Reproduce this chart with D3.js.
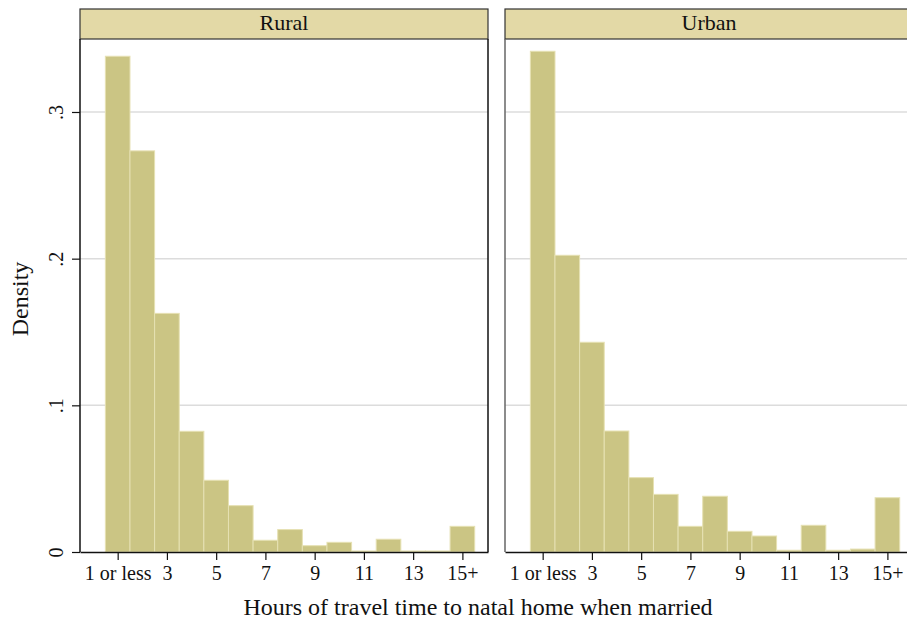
<!DOCTYPE html>
<html>
<head>
<meta charset="utf-8">
<script src="https://cdn.jsdelivr.net/npm/d3@7"></script>
<style>
  body { margin: 0; background: #fff; }
  svg { display: block; font-family: "Liberation Serif", "Times New Roman", serif; }
</style>
</head>
<body>
<div id="container"></div>
<script>
const hours = [1, 2, 3, 4, 5, 6, 7, 8, 9, 10, 11, 12, 13, 14, 15];
const rural = [0.338, 0.2735, 0.1627, 0.0823, 0.0489, 0.0316, 0.008, 0.0153, 0.0043, 0.0066, 0.0007, 0.0087, 0.0007, 0.0007, 0.0175];
const urban = [0.3414, 0.2023, 0.143, 0.0825, 0.0507, 0.0393, 0.0175, 0.038, 0.0141, 0.0109, 0.0012, 0.0182, 0.0012, 0.002, 0.037];
const panels = [
  { name: "Rural", values: rural },
  { name: "Urban", values: urban },
];
const xTicks = [1, 3, 5, 7, 9, 11, 13, 15];
const xTickLabels = ["1 or less", "3", "5", "7", "9", "11", "13", "15+"];
const yTicks = [0, 0.1, 0.2, 0.3];
const yTickLabels = ["0", ".1", ".2", ".3"];

const width = 907;
const height = 623;
const panelWidth = 408;
const panelLefts = [80, 505];
const headerTop = 9;
const headerBottom = 39;
const baseline = 552;

const svg = d3
  .select("#container")
  .append("svg")
  .attr("width", width)
  .attr("height", height);

const xScale = d3.scaleLinear().domain([-0.53, 16.04]).range([0, panelWidth]);
const yScale = d3.scaleLinear().domain([0, 0.35]).range([baseline, baseline - 0.35 * 1466.7]);

panels.forEach((p, i) => {
  const g = svg.append("g").attr("transform", `translate(${panelLefts[i]}, 0)`);

  // gridlines
  g.selectAll("line.grid")
    .data(yTicks.slice(1))
    .enter()
    .append("line")
    .attr("class", "grid")
    .attr("x1", 0)
    .attr("x2", panelWidth)
    .attr("y1", (d) => yScale(d))
    .attr("y2", (d) => yScale(d))
    .attr("stroke", "#dcdcdc")
    .attr("stroke-width", 1.5);

  // bars
  g.selectAll("rect.bar")
    .data(p.values)
    .enter()
    .append("rect")
    .attr("class", "bar")
    .attr("x", (d, j) => xScale(hours[j] - 0.5))
    .attr("width", (d, j) => xScale(hours[j] + 0.5) - xScale(hours[j] - 0.5))
    .attr("y", (d) => yScale(d))
    .attr("height", (d) => baseline - yScale(d))
    .attr("fill", "#cbc584")
    .attr("stroke", "#e6e1b3")
    .attr("stroke-width", 1);

  // header strip
  g.append("rect")
    .attr("x", 0)
    .attr("y", headerTop)
    .attr("width", panelWidth)
    .attr("height", headerBottom - headerTop)
    .attr("fill", "#e3d9a6")
    .attr("stroke", "#333")
    .attr("stroke-width", 1.2);
  g.append("text")
    .attr("x", panelWidth / 2)
    .attr("y", 30)
    .attr("text-anchor", "middle")
    .attr("font-size", "22px")
    .attr("fill", "#111")
    .text(p.name);

  // frame sides
  g.append("line")
    .attr("x1", 0).attr("x2", 0)
    .attr("y1", headerBottom).attr("y2", baseline)
    .attr("stroke", i === 0 ? "#111" : "#666")
    .attr("stroke-width", 1.5);
  g.append("line")
    .attr("x1", panelWidth).attr("x2", panelWidth)
    .attr("y1", headerBottom).attr("y2", baseline)
    .attr("stroke", "#111")
    .attr("stroke-width", 1.5);

  // x axis
  const xAxis = d3
    .axisBottom(xScale)
    .tickValues(xTicks)
    .tickFormat((d, k) => xTickLabels[k])
    .tickSize(8)
    .tickSizeOuter(0)
    .tickPadding(6);
  const xg = g.append("g")
    .attr("transform", `translate(0, ${baseline})`)
    .call(xAxis);
  xg.select(".domain").attr("stroke", "#111").attr("stroke-width", 1.5);
  xg.selectAll(".tick line").attr("stroke", "#111").attr("stroke-width", 1.2);
  xg.selectAll(".tick text")
    .attr("font-family", "Liberation Serif, serif")
    .attr("font-size", "20px")
    .attr("fill", "#111")
    .attr("dy", "0.71em");

  // y axis (labels only on first panel)
  if (i === 0) {
    const yAxis = d3
      .axisLeft(yScale)
      .tickValues(yTicks)
      .tickFormat((d, k) => yTickLabels[k])
      .tickSize(8)
      .tickSizeOuter(0);
    const yg = g.append("g").call(yAxis);
    yg.select(".domain").remove();
    yg.selectAll(".tick line").attr("stroke", "#111").attr("stroke-width", 1.2);
    yg.selectAll(".tick text")
      .attr("font-family", "Liberation Serif, serif")
      .attr("font-size", "20px")
      .attr("fill", "#111")
      .attr("x", null)
      .attr("dy", null)
      .attr("text-anchor", "middle")
      .attr("transform", "translate(-17, 0) rotate(-90)");
  }
});

// axis titles
svg.append("text")
  .attr("x", 478)
  .attr("y", 615)
  .attr("text-anchor", "middle")
  .attr("font-size", "24px")
  .attr("fill", "#111")
  .text("Hours of travel time to natal home when married");

svg.append("text")
  .attr("transform", "translate(28, 299) rotate(-90)")
  .attr("text-anchor", "middle")
  .attr("font-size", "24px")
  .attr("fill", "#111")
  .text("Density");
</script>
</body>
</html>
